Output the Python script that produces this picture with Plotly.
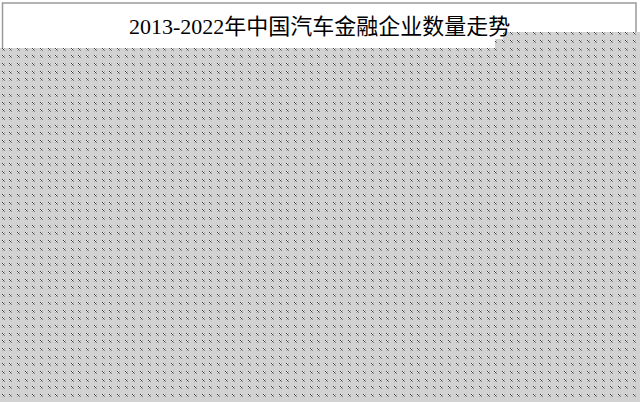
import base64
import struct
import zlib

import numpy as np
import plotly.graph_objects as go

# ---- Chart content (the reference shows only the title; no data marks are visible) ----
title_text = "2013-2022年中国汽车金融企业数量走势"

W, H = 640, 402


def png_data_uri(arr):
    h, w, _ = arr.shape
    raw = b"".join(b"\x00" + arr[i].tobytes() for i in range(h))

    def chunk(tag, data):
        c = struct.pack(">I", len(data)) + tag + data
        return c + struct.pack(">I", zlib.crc32(tag + data) & 0xFFFFFFFF)

    png = b"\x89PNG\r\n\x1a\n"
    png += chunk(b"IHDR", struct.pack(">IIBBBBB", w, h, 8, 6, 0, 0, 0))
    png += chunk(b"IDAT", zlib.compress(raw, 9))
    png += chunk(b"IEND", b"")
    return "data:image/png;base64," + base64.b64encode(png).decode()


# dotted grey backdrop (placeholder texture of the reference)
img = np.zeros((H, W, 4), dtype=np.uint8)
img[..., :3] = 210
img[..., 3] = 255
period = 7.7
xs = [int(round(1.5 + k * period)) for k in range(int(W / period) + 2)]
ys = [int(round(1.5 + k * period)) for k in range(int(H / period) + 2)]
for yy in ys:
    for xx in xs:
        for dy, dx, v in ((0, 0, 60), (1, 1, 60), (0, 1, 240), (1, 0, 240), (2, 2, 130), (2, 0, 170), (0, 2, 170)):
            py_, px_ = yy + dy, xx + dx
            if 0 <= py_ < H and 0 <= px_ < W:
                img[py_, px_, :3] = v
yy_idx, xx_idx = np.mgrid[0:H, 0:W]
mask = (yy_idx >= 48) | ((xx_idx >= 503) & (yy_idx >= 32)) | ((xx_idx >= 495) & (yy_idx >= 39))
img[..., 3] = np.where(mask, 255, 0).astype(np.uint8)


def px(x):
    return x / W


def py(y):
    return 1 - y / H


fig = go.Figure()

fig.add_layout_image(
    source=png_data_uri(img),
    xref="paper", yref="paper",
    x=0, y=1, sizex=1, sizey=1,
    xanchor="left", yanchor="top",
    sizing="stretch", layer="above",
)

fig.add_shape(
    type="path",
    xref="paper", yref="paper",
    path=f"M {px(2.5)},{py(48)} L {px(2.5)},{py(3)} L {px(636)},{py(3)} L {px(636)},{py(32)}",
    line=dict(color="#9a9a9a", width=1.5),
    layer="below",
)

fig.add_annotation(
    text=title_text,
    xref="paper", yref="paper",
    x=px(319), y=py(27),
    xanchor="center", yanchor="middle",
    showarrow=False,
    font=dict(family="Liberation Serif, Noto Sans CJK SC", size=22, color="#000000"),
)

fig.update_layout(
    width=W, height=H, autosize=False,
    margin=dict(l=0, r=0, t=0, b=0, pad=0),
    paper_bgcolor="white", plot_bgcolor="white",
    showlegend=False,
    xaxis=dict(visible=False, range=[0, 1]),
    yaxis=dict(visible=False, range=[0, 1]),
)

fig.write_html(
    "out.html",
    config={"displayModeBar": False},
    post_script="document.body.style.margin='0';document.body.style.overflow='hidden';",
)
